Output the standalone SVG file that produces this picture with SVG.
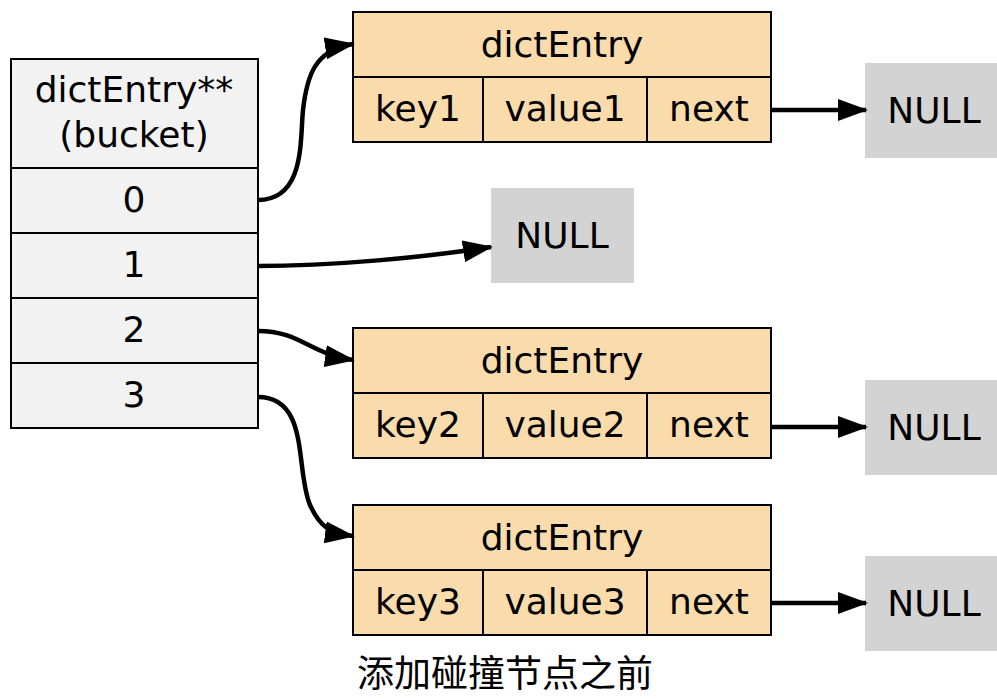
<svg xmlns="http://www.w3.org/2000/svg" width="997" height="699" viewBox="0 0 997 699">
<defs>
<marker id="ah" markerWidth="30" markerHeight="22" refX="28" refY="11" orient="auto" markerUnits="userSpaceOnUse">
<path d="M0,0 L30,11 L0,22 Z" fill="#000"/>
</marker>
<style>
text{font-family:"DejaVu Sans","Noto Sans",sans-serif;font-size:36px;fill:#000;text-anchor:middle}
.b{fill:#f2f2f2;stroke:#000;stroke-width:2}
.e{fill:#fadcac;stroke:#000;stroke-width:2}
.n{fill:#d3d3d3}
.c{fill:none;stroke:#000;stroke-width:4.5;marker-end:url(#ah)}
</style>
</defs>
<rect width="997" height="699" fill="#fff"/>
<g id="bucket">
<rect class="b" x="11" y="59" width="247" height="109"/>
<rect class="b" x="11" y="168" width="247" height="65"/>
<rect class="b" x="11" y="233" width="247" height="65"/>
<rect class="b" x="11" y="298" width="247" height="65"/>
<rect class="b" x="11" y="363" width="247" height="65"/>
<text x="134" y="102">dictEntry**</text>
<text x="134" y="147">(bucket)</text>
<text x="134" y="212">0</text>
<text x="134" y="277">1</text>
<text x="134" y="342">2</text>
<text x="134" y="407">3</text>
</g>
<g id="entry1">
<rect class="e" x="353" y="12" width="418" height="65"/>
<rect class="e" x="353" y="77" width="130" height="65"/>
<rect class="e" x="483" y="77" width="164" height="65"/>
<rect class="e" x="647" y="77" width="124" height="65"/>
<text x="562" y="57">dictEntry</text>
<text x="418" y="121">key1</text>
<text x="565" y="121">value1</text>
<text x="709" y="121">next</text>
</g>
<g id="entry2">
<rect class="e" x="353" y="328" width="418" height="65"/>
<rect class="e" x="353" y="393" width="130" height="65"/>
<rect class="e" x="483" y="393" width="164" height="65"/>
<rect class="e" x="647" y="393" width="124" height="65"/>
<text x="562" y="373">dictEntry</text>
<text x="418" y="437">key2</text>
<text x="565" y="437">value2</text>
<text x="709" y="437">next</text>
</g>
<g id="entry3">
<rect class="e" x="353" y="505" width="418" height="65"/>
<rect class="e" x="353" y="570" width="130" height="65"/>
<rect class="e" x="483" y="570" width="164" height="65"/>
<rect class="e" x="647" y="570" width="124" height="65"/>
<text x="562" y="550">dictEntry</text>
<text x="418" y="614">key3</text>
<text x="565" y="614">value3</text>
<text x="709" y="614">next</text>
</g>
<g id="null1"><rect class="n" x="865" y="63" width="132" height="95"/><text x="934" y="123">NULL</text></g>
<g id="null2"><rect class="n" x="491" y="188" width="143" height="95"/><text x="562" y="248">NULL</text></g>
<g id="null3"><rect class="n" x="865" y="380" width="132" height="95"/><text x="934" y="440">NULL</text></g>
<g id="null4"><rect class="n" x="865" y="556" width="132" height="95"/><text x="934" y="616">NULL</text></g>
<g id="connectors">
<path class="c" d="M258,200 C305,200 300,140 303,110 C307,75 315,50 353,44"/>
<path class="c" d="M258,266 C330,266 420,258 491,247"/>
<path class="c" d="M258,331 C300,331 310,354 353,360"/>
<path class="c" d="M258,397 C310,397 295,470 310,505 C320,527 330,533 353,536"/>
<path class="c" d="M771,110 L866,110"/>
<path class="c" d="M771,427 L866,427"/>
<path class="c" d="M771,603 L866,603"/>
</g>
<text x="505" y="687" style="font-family:'Noto Sans CJK SC','DejaVu Sans',sans-serif;font-size:37px">添加碰撞节点之前</text>
</svg>
